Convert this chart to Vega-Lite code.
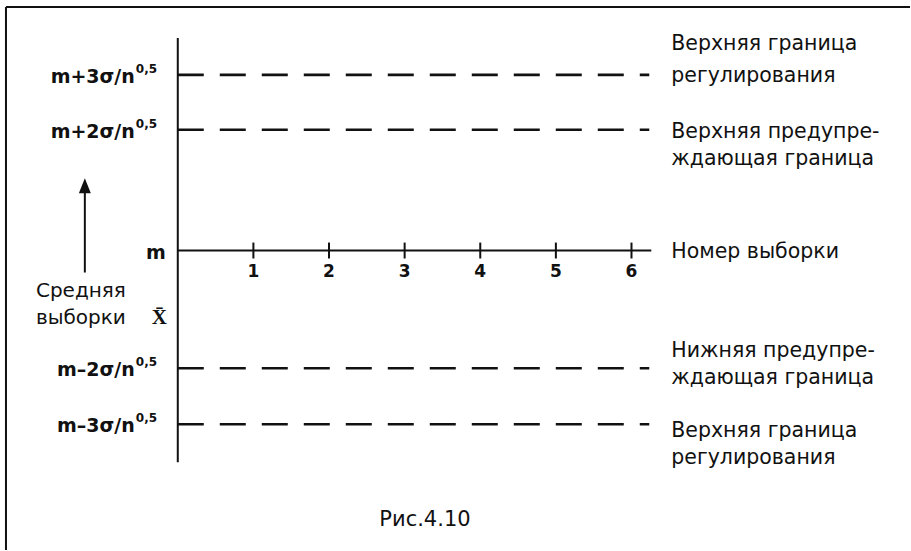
{
  "$schema": "https://vega.github.io/schema/vega-lite/v6.json",
  "width": 911,
  "height": 551,
  "autosize": {"type": "fit", "contains": "padding"},
  "padding": 0,
  "background": "white",
  "config": {"view": {"stroke": null}, "text": {"font": "DejaVu Sans", "color": "#111111", "baseline": "alphabetic"}},
  "datasets": {
    "structure": [
      {"part": "frame top", "x": -2.272, "x2": 9.683, "y": 4.101, "y2": 4.101},
      {"part": "frame left", "x": -2.272, "x2": -2.272, "y": 4.101, "y2": -5.042},
      {"part": "y axis", "x": 0, "x2": 0, "y": 3.58, "y2": -3.563},
      {"part": "x axis", "x": 0, "x2": 6.262, "y": 0, "y2": 0},
      {"part": "arrow shaft", "x": -1.229, "x2": -1.229, "y": -0.37, "y2": 1.0}
    ],
    "limits": [
      {"limit": "UCL", "x": 0, "x2": 6.235, "y": 2.958},
      {"limit": "UWL", "x": 0, "x2": 6.235, "y": 2.034},
      {"limit": "LWL", "x": 0, "x2": 6.235, "y": -1.983},
      {"limit": "LCL", "x": 0, "x2": 6.235, "y": -2.924}
    ],
    "ticks": [
      {"x": 1, "y": 0.134, "y2": -0.134},
      {"x": 2, "y": 0.134, "y2": -0.134},
      {"x": 3, "y": 0.134, "y2": -0.134},
      {"x": 4, "y": 0.134, "y2": -0.134},
      {"x": 5, "y": 0.134, "y2": -0.134},
      {"x": 6, "y": 0.134, "y2": -0.134}
    ],
    "tickLabels": [
      {"x": 1, "y": -0.454, "text": "1"},
      {"x": 2, "y": -0.454, "text": "2"},
      {"x": 3, "y": -0.454, "text": "3"},
      {"x": 4, "y": -0.454, "text": "4"},
      {"x": 5, "y": -0.454, "text": "5"},
      {"x": 6, "y": -0.454, "text": "6"}
    ],
    "arrow": [{"x": -1.229, "y": 1.092}],
    "leftLabels": [
      {"x": -0.568, "y": 2.824, "text": "m+3σ/n", "sup": "0,5"},
      {"x": -0.568, "y": 1.899, "text": "m+2σ/n", "sup": "0,5"},
      {"x": -0.159, "y": -0.151, "text": "m", "sup": ""},
      {"x": -0.568, "y": -2.118, "text": "m–2σ/n", "sup": "0,5"},
      {"x": -0.568, "y": -3.059, "text": "m–3σ/n", "sup": "0,5"}
    ],
    "yTitle": [
      {"x": -1.876, "y": -0.79, "text": "Средняя"},
      {"x": -1.876, "y": -1.244, "text": "выборки"}
    ],
    "xbar": [{"x": -0.244, "y": -1.244, "text": "X̄"}],
    "rightLabels": [
      {"x": 6.526, "y": 3.378, "text": "Верхняя граница"},
      {"x": 6.526, "y": 2.84, "text": "регулирования"},
      {"x": 6.526, "y": 1.899, "text": "Верхняя предупре-"},
      {"x": 6.526, "y": 1.445, "text": "ждающая граница"},
      {"x": 6.526, "y": -0.118, "text": "Номер выборки"},
      {"x": 6.526, "y": -1.798, "text": "Нижняя  предупре-"},
      {"x": 6.526, "y": -2.252, "text": "ждающая граница"},
      {"x": 6.526, "y": -3.143, "text": "Верхняя граница"},
      {"x": 6.526, "y": -3.597, "text": "регулирования"}
    ],
    "caption": [{"x": 3.269, "y": -4.639, "text": "Рис.4.10"}]
  },
  "encoding": {
    "x": {"field": "x", "type": "quantitative", "scale": {"domain": [-2.351, 9.683], "nice": false, "zero": false}, "axis": null},
    "y": {"field": "y", "type": "quantitative", "scale": {"domain": [-5.042, 4.218], "nice": false, "zero": false}, "axis": null}
  },
  "layer": [
    {
      "data": {"name": "structure"},
      "mark": {"type": "rule", "strokeWidth": 2, "color": "#111111"},
      "encoding": {"x2": {"field": "x2"}, "y2": {"field": "y2"}}
    },
    {
      "data": {"name": "limits"},
      "mark": {"type": "rule", "strokeWidth": 2.6, "color": "#111111", "strokeDash": [26, 16]},
      "encoding": {"x2": {"field": "x2"}}
    },
    {
      "data": {"name": "ticks"},
      "mark": {"type": "rule", "strokeWidth": 2, "color": "#111111"},
      "encoding": {"y2": {"field": "y2"}}
    },
    {
      "data": {"name": "tickLabels"},
      "mark": {"type": "text", "fontSize": 17, "fontWeight": "bold", "align": "center"},
      "encoding": {"text": {"field": "text"}}
    },
    {
      "data": {"name": "arrow"},
      "mark": {"type": "point", "shape": "M-0.8,1L0,-1L0.8,1Z", "filled": true, "size": 225, "color": "#111111", "opacity": 1}
    },
    {
      "data": {"name": "leftLabels"},
      "mark": {"type": "text", "fontSize": 19, "fontWeight": "bold", "align": "right"},
      "encoding": {"text": {"field": "text"}}
    },
    {
      "data": {"name": "leftLabels"},
      "mark": {"type": "text", "fontSize": 12, "fontWeight": "bold", "align": "left", "dx": 1, "dy": -10},
      "encoding": {"text": {"field": "sup"}}
    },
    {
      "data": {"name": "yTitle"},
      "mark": {"type": "text", "fontSize": 20, "align": "left"},
      "encoding": {"text": {"field": "text"}}
    },
    {
      "data": {"name": "xbar"},
      "mark": {"type": "text", "fontSize": 21, "fontWeight": "bold", "font": "Liberation Serif", "align": "center"},
      "encoding": {"text": {"field": "text"}}
    },
    {
      "data": {"name": "rightLabels"},
      "mark": {"type": "text", "fontSize": 20.5, "align": "left"},
      "encoding": {"text": {"field": "text"}}
    },
    {
      "data": {"name": "caption"},
      "mark": {"type": "text", "fontSize": 21, "align": "center"},
      "encoding": {"text": {"field": "text"}}
    }
  ]
}
